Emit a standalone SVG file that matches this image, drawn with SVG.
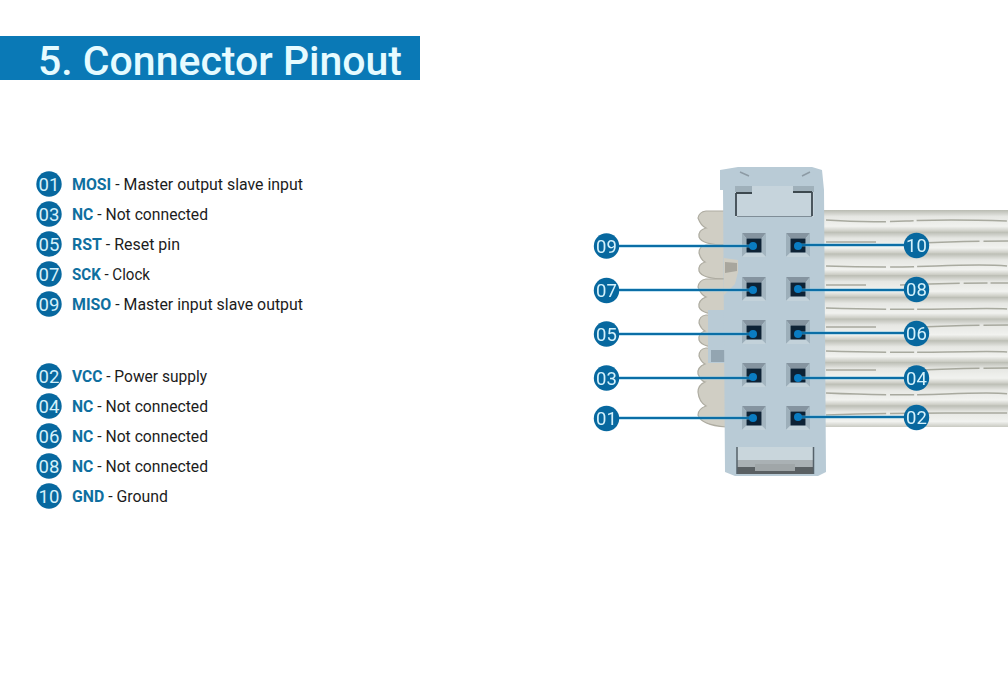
<svg xmlns="http://www.w3.org/2000/svg" width="1008" height="673" viewBox="0 0 1008 673">
<style>
.title{font-size:41px;font-weight:500;fill:#e6fbff;font-family:Roboto,"Liberation Sans",sans-serif}
.row{font-size:15.800px;fill:#1c1c1c;font-family:Roboto,"Liberation Sans",sans-serif}
.key{font-weight:700;fill:#0f6f9f}
.bub{fill:#07689f}
.num{font-size:18.500px;fill:#d4f1fb;text-anchor:middle;font-family:Roboto,"Liberation Sans",sans-serif;font-weight:400}
.halo{stroke:#5fb4dc;stroke-width:3.400;fill:none;opacity:.5}
.wire{stroke:#0b6ea6;stroke-width:2.200;fill:none}
.dot{fill:#0a7cc2}
.hole{fill:#0e2234}
.streak{stroke:#97988c;stroke-width:1.500;fill:none;opacity:.8;stroke-dasharray:60 4 24 3 90 3}
</style>
<defs>
<linearGradient id="rib" x1="0" y1="0" x2="0" y2="1">
<stop offset="0" stop-color="#b9bbb2"/><stop offset=".3" stop-color="#e6e7e3"/><stop offset=".75" stop-color="#f1f2ef"/><stop offset="1" stop-color="#c8c9c1"/>
</linearGradient>
<pattern id="ribs" x="0" y="210" width="40" height="21.700" patternUnits="userSpaceOnUse">
<rect width="40" height="21.700" fill="url(#rib)"/>
</pattern>
<filter id="soft"><feGaussianBlur stdDeviation=".55"/></filter>
<g id="socket">
<polygon points="-12,-12 12,-12 7.500,-6.500 -7.500,-6.500" fill="#8594a0"/>
<polygon points="-12,-12 -7.500,-6.500 -7.500,7.500 -12,12" fill="#9dafba"/>
<polygon points="12,-12 7.500,-6.500 7.500,7.500 12,12" fill="#a3b5c0"/>
<polygon points="-12,12 -7.500,7.500 7.500,7.500 12,12" fill="#c3d2da"/>
<rect class="hole" x="-7.500" y="-6.500" width="15" height="14"/>
</g>
</defs>
<rect width="1008" height="673" fill="#fff"/>
<g id="header">
<rect x="0" y="36" width="420" height="44" fill="#0a79b6"/>
<text class="title" x="38" y="75" textLength="364" lengthAdjust="spacingAndGlyphs">5. Connector Pinout</text>
</g>
<g id="legend">
<g id="legend-01"><circle class="bub" cx="49" cy="184" r="12.700"/><text class="num" x="49" y="190.500">01</text><text class="row" x="72" y="190" textLength="231" lengthAdjust="spacingAndGlyphs"><tspan class="key">MOSI</tspan> - Master output slave input</text></g>
<g id="legend-03"><circle class="bub" cx="49" cy="214" r="12.700"/><text class="num" x="49" y="220.500">03</text><text class="row" x="72" y="220" textLength="136" lengthAdjust="spacingAndGlyphs"><tspan class="key">NC</tspan> - Not connected</text></g>
<g id="legend-05"><circle class="bub" cx="49" cy="244" r="12.700"/><text class="num" x="49" y="250.500">05</text><text class="row" x="72" y="250" textLength="108" lengthAdjust="spacingAndGlyphs"><tspan class="key">RST</tspan> - Reset pin</text></g>
<g id="legend-07"><circle class="bub" cx="49" cy="274" r="12.700"/><text class="num" x="49" y="280.500">07</text><text class="row" x="72" y="280" textLength="78" lengthAdjust="spacingAndGlyphs"><tspan class="key">SCK</tspan> - Clock</text></g>
<g id="legend-09"><circle class="bub" cx="49" cy="304" r="12.700"/><text class="num" x="49" y="310.500">09</text><text class="row" x="72" y="310" textLength="231" lengthAdjust="spacingAndGlyphs"><tspan class="key">MISO</tspan> - Master input slave output</text></g>
<g id="legend-02"><circle class="bub" cx="49" cy="376" r="12.700"/><text class="num" x="49" y="382.500">02</text><text class="row" x="72" y="382" textLength="135" lengthAdjust="spacingAndGlyphs"><tspan class="key">VCC</tspan> - Power supply</text></g>
<g id="legend-04"><circle class="bub" cx="49" cy="406" r="12.700"/><text class="num" x="49" y="412.500">04</text><text class="row" x="72" y="412" textLength="136" lengthAdjust="spacingAndGlyphs"><tspan class="key">NC</tspan> - Not connected</text></g>
<g id="legend-06"><circle class="bub" cx="49" cy="436" r="12.700"/><text class="num" x="49" y="442.500">06</text><text class="row" x="72" y="442" textLength="136" lengthAdjust="spacingAndGlyphs"><tspan class="key">NC</tspan> - Not connected</text></g>
<g id="legend-08"><circle class="bub" cx="49" cy="466" r="12.700"/><text class="num" x="49" y="472.500">08</text><text class="row" x="72" y="472" textLength="136" lengthAdjust="spacingAndGlyphs"><tspan class="key">NC</tspan> - Not connected</text></g>
<g id="legend-10"><circle class="bub" cx="49" cy="496" r="12.700"/><text class="num" x="49" y="502.500">10</text><text class="row" x="72" y="502" textLength="96" lengthAdjust="spacingAndGlyphs"><tspan class="key">GND</tspan> - Ground</text></g>
</g>
<g id="connector-photo" filter="url(#soft)">
<g id="ribbon">
<rect x="824" y="210" width="184" height="217" fill="url(#ribs)"/>
<path class="streak" d="M826 220q40 3 80 1t102 0M826 242h50M920 243q40-2 88-2M826 266q60 2 110 0t72 0M826 285h40M900 285q50-2 108-2M826 308q70 2 120 1t62 0M826 327h50M920 327q40-2 88-2M826 351q70 2 120 1t62 0M826 370h50M920 370q40-2 88-2M826 393q70 3 120 1t62 0M826 415q70-2 120-2t62 0"/>
</g>
<g id="wire-loops" fill="#d0cec4" stroke="#aeaca1" stroke-width="1.200">
<path d="M726 211h-20q-7 1-8 7q3 8 8 10q-8 2-7 9q3 8 27 8z"/>
<path d="M726 245h-20q-7 1-7 8q2 7 6 9q-7 2-6 9q3 8 27 8z"/>
<path d="M726 279h-20q-7 1-8 8q3 8 8 10q-8 3-7 10q3 8 27 8z"/>
<path d="M726 315h-20q-7 1-7 8q2 6 6 8q-7 2-6 9q3 8 27 8z"/>
<path d="M726 348h-20q-7 1-7 8q2 6 6 8q-8 3-7 10q3 7 7 8q-7 3-7 10q1 10 8 14q-8 3-8 9q3 10 28 12z"/>
</g>
<g id="housing">
<polygon points="708,310 726,310 726,363 708,363" fill="#b9cbd6"/>
<rect x="711" y="350" width="14" height="12" fill="#93a5b1"/>
<polygon points="720,170 738,167 812,167 822,170 824,190 826,472 818,476 735,476 725,472 723,190 720,190" fill="#b9cbd6"/>
<polygon points="724,258 738,260 738,272 735,284 724,295" fill="#d0cec4"/>
<path d="M725 262l12 1v8l-12 2z" fill="#a8a69d"/>
<rect x="735" y="186" width="79" height="31" fill="#c6d4dc"/>
<rect x="735" y="186" width="17" height="6" fill="#9fb0ba"/>
<rect x="793" y="186" width="21" height="6" fill="#9fb0ba"/>
<path d="M736 193h16M736 193v23M793 192h19M812 192v24" stroke="#3d4950" stroke-width="1.800" fill="none"/>
<path d="M737 216.500h75" stroke="#7f8d97" stroke-width="1"/>
<path d="M740 172l9 4M810 172l-8 4" stroke="#8d9ba5" stroke-width="1.500"/>
<rect x="737" y="447" width="77" height="27" fill="#c9d6dc"/>
<rect x="737" y="460" width="77" height="7" fill="#aab1b4"/>
<rect x="737" y="467" width="77" height="7" fill="#5a6063"/>
<rect x="755" y="464" width="40" height="7" fill="#a0a6a8"/>
<path d="M737 447v27M813.500 447v27" stroke="#56626a" stroke-width="1.500"/>
</g>
<g id="sockets">
<use href="#socket" x="754" y="245"/><use href="#socket" x="798" y="245"/>
<use href="#socket" x="754" y="289"/><use href="#socket" x="798" y="289"/>
<use href="#socket" x="754" y="332"/><use href="#socket" x="798" y="332"/>
<use href="#socket" x="754" y="375"/><use href="#socket" x="798" y="375"/>
<use href="#socket" x="754" y="418"/><use href="#socket" x="798" y="418"/>
</g>
</g>
<g id="connectors">
<path class="halo" d="M606 246H753M606 290H753M606 334H753M606 378H753M606 418H753M798 245H917M798 290H917M798 333H917M798 378H917M798 417H917"/>
<path class="wire" d="M606 246H753M606 290H753M606 334H753M606 378H753M606 418H753M798 245H917M798 290H917M798 333H917M798 378H917M798 417H917"/>
<g id="pin-dots">
<circle class="dot" cx="753" cy="246" r="4"/><circle class="dot" cx="798" cy="246" r="4"/>
<circle class="dot" cx="753" cy="290" r="4"/><circle class="dot" cx="798" cy="289" r="4"/>
<circle class="dot" cx="753" cy="334" r="4"/><circle class="dot" cx="798" cy="334" r="4"/>
<circle class="dot" cx="753" cy="377" r="4"/><circle class="dot" cx="798" cy="378" r="4"/>
<circle class="dot" cx="753" cy="418" r="4"/><circle class="dot" cx="798" cy="417" r="4"/>
</g>
</g>
<g id="pin-09"><circle class="bub" cx="606.500" cy="246" r="12.700"/><text class="num" x="606.500" y="252.500">09</text></g>
<g id="pin-07"><circle class="bub" cx="606.500" cy="290.500" r="12.700"/><text class="num" x="606.500" y="297">07</text></g>
<g id="pin-05"><circle class="bub" cx="606.500" cy="334" r="12.700"/><text class="num" x="606.500" y="340.500">05</text></g>
<g id="pin-03"><circle class="bub" cx="606.500" cy="378" r="12.700"/><text class="num" x="606.500" y="384.500">03</text></g>
<g id="pin-01"><circle class="bub" cx="606.500" cy="418.500" r="12.700"/><text class="num" x="606.500" y="425">01</text></g>
<g id="pin-10"><circle class="bub" cx="916.500" cy="245.500" r="12.700"/><text class="num" x="916.500" y="252">10</text></g>
<g id="pin-08"><circle class="bub" cx="916.500" cy="289.500" r="12.700"/><text class="num" x="916.500" y="296">08</text></g>
<g id="pin-06"><circle class="bub" cx="916.500" cy="333.500" r="12.700"/><text class="num" x="916.500" y="340">06</text></g>
<g id="pin-04"><circle class="bub" cx="916.500" cy="378" r="12.700"/><text class="num" x="916.500" y="384.500">04</text></g>
<g id="pin-02"><circle class="bub" cx="916.500" cy="417.500" r="12.700"/><text class="num" x="916.500" y="424">02</text></g>
</svg>
